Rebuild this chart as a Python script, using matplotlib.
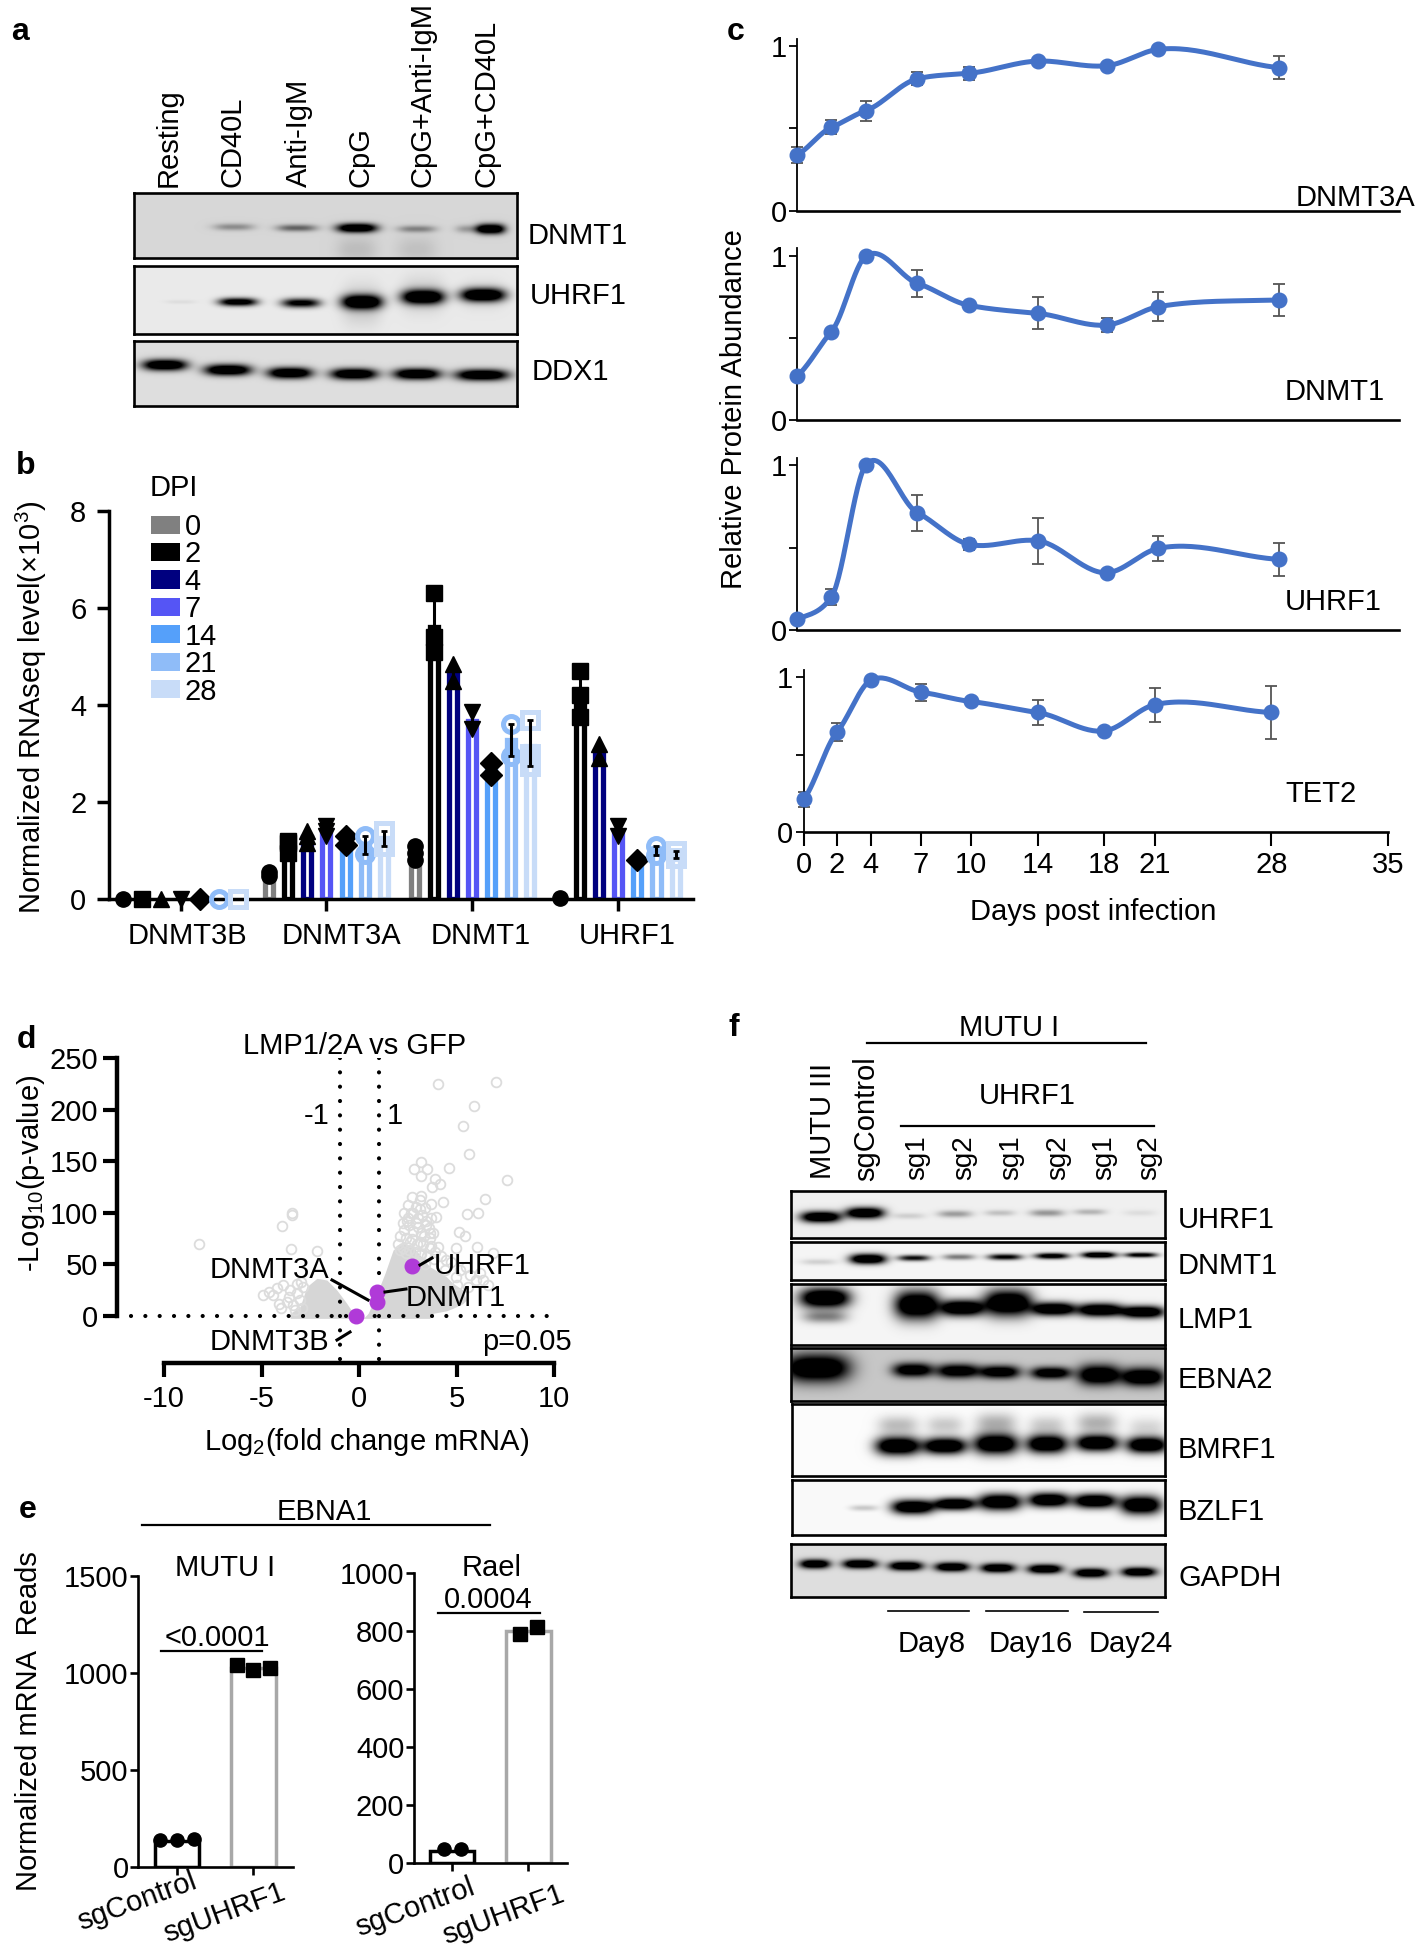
import numpy as np
import matplotlib
matplotlib.use('Agg')
import matplotlib.pyplot as plt
from matplotlib.patches import Patch

W, H = 1420, 1950

plt.rcParams['font.family'] = ['Liberation Sans', 'DejaVu Sans']
plt.rcParams['font.size'] = 21
plt.rcParams['mathtext.fontset'] = 'custom'
plt.rcParams['mathtext.rm'] = 'Liberation Sans'
plt.rcParams['mathtext.default'] = 'regular'
plt.rcParams['axes.unicode_minus'] = False

# panel a, blot bands
a_labels = ['Resting', 'CD40L', 'Anti-IgM', 'CpG', 'CpG+Anti-IgM', 'CpG+CD40L']
a_dnmt1_x = [234, 297, 357, 417, 470, 491, 357, 417]
a_dnmt1_y = [227, 228, 228, 229, 229, 229, 250, 250]
a_dnmt1_amp = [0.35, 0.55, 1.0, 0.4, 0.3, 1.0, 0.12, 0.1]
a_uhrf1_x = [181, 238, 301, 362, 423, 483, 362, 423, 483]
a_uhrf1_y = [302, 302, 303, 302, 297, 295, 305, 295, 295]
a_uhrf1_amp = [0.06, 0.85, 0.75, 1.0, 1.0, 1.0, 0.16, 0.14, 0.1]
a_ddx1_x = [165, 228, 290, 354, 417, 482]
a_ddx1_y = [365, 370, 373, 374, 374, 375]
a_ddx1_amp = [1.0, 1.0, 1.0, 1.0, 1.0, 1.0]

# panel b
genes = ['DNMT3B', 'DNMT3A', 'DNMT1', 'UHRF1']
dpi_labels = ['0', '2', '4', '7', '14', '21', '28']
dpi_colors = ['#808080', '#000000', '#00007f', '#5555f5', '#55a0fa', '#8fbcf8', '#c8dcf8']
dpi_markers = ['o', 's', '^', 'v', 'D', 'o', 's']
dnmt3b_pts = [[0.0], [0.0], [0.01], [0.0], [0.0], [0.0], [0.0]]
dnmt3a_pts = [[0.48, 0.55], [0.95, 1.15, 1.2], [1.15, 1.3, 1.4], [1.3, 1.4, 1.5],
              [1.12, 1.3], [0.92, 1.3], [1.1, 1.4]]
dnmt1_pts = [[0.8, 0.95, 1.1], [5.1, 5.4, 6.3], [4.5, 4.85], [3.5, 3.85],
             [2.55, 2.8], [2.95, 3.6], [2.75, 3.0, 3.7]]
uhrf1_pts = [[0.03], [3.75, 4.2, 4.7], [2.9, 3.2], [1.3, 1.5], [0.8], [0.9, 1.1], [0.85, 1.0]]

# panel c
days = [0, 2, 4, 7, 10, 14, 18, 21, 28]
dnmt3a_c = [0.339, 0.506, 0.607, 0.80, 0.833, 0.907, 0.879, 0.978, 0.867]
dnmt3a_err = [0.05, 0.043, 0.06, 0.04, 0.04, 0.01, 0.01, 0.01, 0.068]
dnmt1_c = [0.268, 0.539, 1.0, 0.833, 0.699, 0.65, 0.579, 0.691, 0.732]
dnmt1_err = [0.0, 0.01, 0.0, 0.083, 0.01, 0.098, 0.045, 0.088, 0.10]
uhrf1_c = [0.065, 0.2, 1.0, 0.711, 0.519, 0.541, 0.347, 0.495, 0.428]
uhrf1_err = [0.02, 0.048, 0.0, 0.11, 0.035, 0.14, 0.01, 0.075, 0.10]
tet2_c = [0.21, 0.646, 0.978, 0.903, 0.842, 0.771, 0.652, 0.821, 0.771]
tet2_err = [0.05, 0.06, 0.0, 0.055, 0.01, 0.08, 0.01, 0.11, 0.173]

# panel d
cloud_left_x = [-3.53, -3.02, -2.68, -2.16, -1.65, -1.14, -0.63, -0.29, 0.05]
cloud_left_top = [2.6, 9, 28.4, 36.5, 34.9, 25.2, 12.3, 2.6, -1.3]
cloud_right_x = [0.22, 0.47, 0.82, 1.33, 1.75, 2.26, 2.77, 3.63, 3.8, 4.48, 4.8, 5.33, 5.5]
cloud_right_top = [-2.3, 2.6, 17, 41.3, 64, 70.4, 67.2, 47.8, 46, 38.1, 32, 25.2, 15.5]
cloud_right_low = [-2.3, -2.3, -2.3, -2.3, -2.3, -2.3, -2.3, -2.3, 2.6, 5, 7.3, 12, 15.5]
volcano_x = [4.05, 7.0, 5.89, 5.31, 5.65, 4.61, 7.61, 3.2, 3.49, 2.81, 3.18, 3.9, 4.14, 3.76,
             3.11, 3.71, 4.32, 6.44, 3.11, 5.53, 6.09, 2.69, 3.93, 2.47, 2.91, 3.46, 2.3,
             2.77, 3.2, 3.63, 5.12, 5.45, 2.64, 3.11, 3.63, 4.05, 4.99, 6.06, 2.09, 2.43,
             3.11, 3.63, 4.48, 5.5, 6.86, 6.01, 4.99, 6.35,
             -3.46, -3.46, -3.95, -3.49, -2.16, -8.2, -4.64, -4.21, -4.09, -3.53, -3.61,
             -3.19, -3.36, -3.02, -2.85,
             2.3, 2.5, 2.7, 2.9, 3.2, 3.4, 2.5, 2.75, 3.0, 3.25, 3.45, 3.7, 2.25, 2.55, 3.05,
             3.35, 3.6, 3.8, 2.1, 2.4, 2.7, 2.95, 3.3, 3.7, 3.9, 2.0, 2.25, 2.55, 2.85, 3.2,
             3.5, 3.85, 4.2, 4.7, 5.2, 5.7, 6.2, 6.6, 5.0, 5.6, 4.4, 3.0, 3.4,
             -4.9, -4.4, -3.9, -3.7, -3.2, -2.9, -3.3, -3.0, -4.0]
volcano_y = [224.5, 226.4, 203.8, 184.4, 157, 143.4, 131.8, 149.5, 142.8, 142.2, 135.3, 132.5,
             127.9, 125.3, 112.4, 108.5, 110.1, 113.4, 103.7, 98.5, 99.5, 99.5, 96.3, 92.4,
             89.8, 88.2, 83.3, 82.7, 80.1, 80.1, 81.7, 77.8, 72, 72, 75.3, 67.2, 65.6, 67.2,
             64, 60.7, 58.8, 65.6, 54.3, 47.8, 60.7, 34.9, 38.1, 34.9,
             100.1, 98, 87.2, 64.9, 63, 70, 23.6, 26.9, 11.6, 25.2, 18.7,
             22, 10.7, 15.5, 28.4,
             100, 108, 115, 106, 116, 105, 95, 100, 95, 98, 92, 95, 90, 88, 86,
             78, 85, 80, 78, 76, 75, 70, 70, 68, 62, 70, 66, 64, 62, 60,
             58, 55, 58, 52, 45, 40, 42, 30, 30, 28, 45, 52, 50,
             20, 20, 30, 14, 31, 8, 6, 33, 8]
hit_x = [2.72, 0.94, 0.93, -0.15]
hit_y = [48.4, 23.5, 13.9, 0.3]

# panel e
e_groups = ['sgControl', 'sgUHRF1']
mutu_ctrl = [140, 138, 142]
mutu_sg = [1040, 1015, 1027]
rael_ctrl = [48, 48]
rael_sg = [790, 813]
mutu_bars = [132, 1024]
rael_bars = [42, 800]

# panel f, blot bands
f_lanes = ['sg1', 'sg2', 'sg1', 'sg2', 'sg1', 'sg2']
f_uhrf1_x = [821, 865, 909, 955, 1000, 1047, 1090, 1140]
f_uhrf1_y = [1217, 1213, 1216, 1214, 1213, 1213, 1212, 1213]
f_uhrf1_amp = [1.0, 1.0, 0.14, 0.35, 0.2, 0.38, 0.25, 0.08]
f_dnmt1_x = [819, 868, 914, 959, 1005, 1052, 1099, 1141]
f_dnmt1_y = [1262, 1259, 1258, 1257, 1257, 1256, 1255, 1255]
f_dnmt1_amp = [0.15, 1.0, 0.65, 0.5, 0.7, 0.8, 0.95, 0.75]
f_lmp1_x = [825, 825, 917, 962, 1008, 1054, 1100, 1143]
f_lmp1_y = [1298, 1317, 1305, 1308, 1303, 1309, 1310, 1312]
f_lmp1_amp = [1.0, 0.45, 1.0, 1.0, 1.0, 1.0, 1.0, 1.0]
f_ebna2_x = [817, 913, 958, 1000, 1051, 1099, 1143]
f_ebna2_y = [1368, 1370, 1371, 1372, 1373, 1375, 1377]
f_ebna2_amp = [1.0, 0.9, 0.9, 0.9, 0.9, 1.0, 1.0]
f_bmrf1_x = [898, 945, 996, 1047, 1097, 1147, 898, 945, 996, 1047, 1097, 1147]
f_bmrf1_y = [1446, 1446, 1444, 1444, 1443, 1445, 1425, 1425, 1423, 1425, 1423, 1427]
f_bmrf1_amp = [1.0, 1.0, 1.0, 1.0, 1.0, 1.0, 0.25, 0.2, 0.3, 0.2, 0.3, 0.15]
f_bzlf1_x = [864, 913, 955, 1000, 1049, 1095, 1141]
f_bzlf1_y = [1508, 1507, 1504, 1502, 1500, 1501, 1505]
f_bzlf1_amp = [0.2, 1.0, 1.0, 1.0, 1.0, 1.0, 1.0]
f_gapdh_x = [815, 860, 906, 952, 998, 1045, 1091, 1139]
f_gapdh_y = [1564, 1564, 1566, 1567, 1568, 1569, 1573, 1572]
f_gapdh_amp = [1.0, 1.0, 1.0, 1.0, 1.0, 1.0, 1.0, 1.0]

fig = plt.figure(figsize=(W / 100, H / 100), dpi=100)


def axpx(x0, y0, x1, y1):
    return fig.add_axes([x0 / W, 1 - y1 / H, (x1 - x0) / W, (y1 - y0) / H])


def T(x, y, s, **kw):
    kw.setdefault('ha', 'center')
    kw.setdefault('va', 'center')
    if 'rotation' not in kw:
        y = y + 2.5
    return fig.text(x / W, 1 - y / H, s, **kw)


def L(x0, y0, x1, y1, lw=1.6, color='black'):
    fig.add_artist(plt.Line2D([x0 / W, x1 / W], [1 - y0 / H, 1 - y1 / H], color=color, lw=lw))


def blot(x0, y0, x1, y1, bg, xs, ys, amps, hw, hh):
    ax = axpx(x0, y0, x1, y1)
    gx, gy = np.meshgrid(np.arange(x0, x1) + 0.5, np.arange(y0, y1) + 0.5)
    dark = np.zeros_like(gx)
    hw = np.broadcast_to(hw, (len(xs),))
    hh = np.broadcast_to(hh, (len(xs),))
    for cx, cy, amp, w, h in zip(xs, ys, amps, hw, hh):
        sat = 1.5 if amp > 0.6 else 1.0
        dark += amp * sat * np.exp(-np.abs((gx - cx) / w) ** 3) * np.exp(-np.abs((gy - cy) / h) ** 2)
    img = bg * (1 - np.clip(dark, 0, 1))
    ax.imshow(img, cmap='gray', vmin=0, vmax=1, extent=[x0, x1, y1, y0], aspect='auto',
              interpolation='bilinear')
    ax.set_xticks([])
    ax.set_yticks([])
    for sp in ax.spines.values():
        sp.set_linewidth(1.9)
    return ax


def smooth(x, y):
    x = np.array(x, dtype=float)
    y = np.array(y, dtype=float)
    m = 0.65 * np.gradient(y, x)
    xs = []
    ys = []
    for i in range(len(x) - 1):
        h = x[i + 1] - x[i]
        t = np.linspace(0, 1, 30)
        xs.append(x[i] + t * h)
        ys.append((2 * t**3 - 3 * t**2 + 1) * y[i] + (t**3 - 2 * t**2 + t) * h * m[i]
                  + (-2 * t**3 + 3 * t**2) * y[i + 1] + (t**3 - t**2) * h * m[i + 1])
    return np.concatenate(xs), np.concatenate(ys)


# letters
for lx, ly, s in [(20, 30, 'a'), (26, 463, 'b'), (736, 29, 'c'), (26, 1038, 'd'), (28, 1508, 'e'), (734, 1026, 'f')]:
    T(lx, ly, s, fontweight='bold', fontsize=23)

# panel a
blot(134, 193, 517, 258, 0.84, a_dnmt1_x, a_dnmt1_y, a_dnmt1_amp,
     [20, 20, 20, 19, 14, 14, 20, 20], [3.5, 3.5, 4.5, 3.5, 4, 5, 14, 14])
blot(134, 266, 517, 334, 0.92, a_uhrf1_x, a_uhrf1_y, a_uhrf1_amp,
     [16, 19, 19, 20, 21, 22, 20, 22, 22], [2, 4, 4.5, 7, 7, 6.5, 20, 18, 14])
blot(134, 341, 517, 406, 0.87, a_ddx1_x, a_ddx1_y, a_ddx1_amp, [22, 23, 22, 23, 23, 26], 5.5)
for xp, s in zip([169, 233, 299, 361, 422, 487], a_labels):
    T(xp, 187, s, rotation=90, va='bottom')
T(528, 233, 'DNMT1', ha='left')
T(530, 293, 'UHRF1', ha='left')
T(532, 370, 'DDX1', ha='left')

# panel b
ax = axpx(109.4, 511, 693, 899)
ax.set_xlim(-0.70, 29.67)
ax.set_ylim(0, 8)
group_step = 7.59
for g, pts in enumerate([dnmt3b_pts, dnmt3a_pts, dnmt1_pts, uhrf1_pts]):
    for i, day_pts in enumerate(pts):
        xpos = g * group_step + i
        mean = np.mean(day_pts)
        if mean > 0.1:
            ax.bar(xpos, mean, width=0.42, facecolor='white', edgecolor=dpi_colors[i], linewidth=3.8, zorder=2)
        if i < 5:
            ax.plot([xpos] * len(day_pts), day_pts, dpi_markers[i], color='black', ms=11, zorder=4, clip_on=False)
        else:
            ax.plot([xpos] * len(day_pts), day_pts, dpi_markers[i], mfc='none', mec=dpi_colors[i], mew=3.6, ms=11.5,
                    zorder=4, clip_on=False)
        if mean > 0.1 and len(day_pts) > 1:
            ax.errorbar(xpos, mean, yerr=[[mean - min(day_pts)], [max(day_pts) - mean]], color='black',
                        lw=2.2, capsize=2.5, capthick=2, zorder=5)
ax.spines['top'].set_visible(False)
ax.spines['right'].set_visible(False)
ax.spines['left'].set_linewidth(2.5)
ax.spines['bottom'].set_linewidth(2.5)
ax.set_xticks([3 + g * group_step for g in range(4)])
ax.set_xticklabels([])
ax.tick_params(axis='x', length=8.5, width=2.5)
ax.set_yticks([0, 2, 4, 6, 8])
ax.tick_params(axis='y', length=8.5, width=2.5, pad=8)
for xp, s in zip([187.5, 341.5, 481, 627], genes):
    T(xp, 934, s)
T(31, 707, 'Normalized RNAseq level(×10$^{3}$)', rotation=90)
T(150, 486, 'DPI', ha='left')
handles = [Patch(facecolor=c, edgecolor='none') for c in dpi_colors]
ax.legend(handles, dpi_labels, loc='upper left', bbox_to_anchor=(151 / W, 1 - 513 / H),
          bbox_transform=fig.transFigure, frameon=False, fontsize=21,
          handlelength=1.0, handleheight=0.58, handletextpad=0.15, labelspacing=-0.02, borderpad=0,
          borderaxespad=0)

# panel c
c_color = '#4472c8'
c_boxes = [(797, 39, 1399.3, 211, 45.7), (797, 248, 1399.3, 420, 256), (797, 458, 1399.3, 630, 465),
           (803.7, 670, 1388.4, 832, 677)]
for box, vals, errs in zip(c_boxes, [dnmt3a_c, dnmt1_c, uhrf1_c, tet2_c],
                           [dnmt3a_err, dnmt1_err, uhrf1_err, tet2_err]):
    x0, top, x1, y0, y1 = box
    ax = axpx(x0, top, x1, y0)
    ax.set_xlim(0, 35)
    ax.set_ylim(0, (y0 - top) / (y0 - y1))
    sx, sy = smooth(days, vals)
    ax.errorbar(days, vals, yerr=errs, fmt='none', ecolor='#555555', elinewidth=1.3, capsize=4.2, capthick=1.3,
                zorder=2, clip_on=False)
    ax.plot(sx, sy, color=c_color, lw=3.6, zorder=3, clip_on=False)
    ax.plot(days, vals, 'o', color=c_color, ms=10.5, zorder=4, clip_on=False)
    ax.spines['top'].set_visible(False)
    ax.spines['right'].set_visible(False)
    ax.spines['left'].set_linewidth(1.3)
    ax.spines['bottom'].set_linewidth(1.9)
    ax.set_yticks([0, 0.5, 1])
    ax.set_yticklabels(['0', '', '1'])
    ax.tick_params(axis='y', length=5.5, width=1.3, pad=2)
    ax.set_xticks([])
ax.set_xticks([0, 2, 4, 7, 10, 14, 18, 21, 28, 35])
ax.tick_params(axis='x', length=10, width=1.5, pad=4)
T(1355, 196, 'DNMT3A')
T(1285, 389, 'DNMT1', ha='left')
T(1285, 599, 'UHRF1', ha='left')
T(1285, 791, 'TET2', ha='left')
T(733.5, 409, 'Relative Protein Abundance', rotation=90, fontsize=21)
T(1092.7, 909, 'Days post infection')

# panel d
ax = axpx(117.4, 1058, 560, 1363)
ax.set_xlim((117.4 - 359) / 19.5, (560 - 359) / 19.5)
ax.set_ylim((1316 - 1363) / 1.032, 250)
ax.fill_between(cloud_left_x, -2.3, cloud_left_top, color='#d6d6d6', lw=0, zorder=1)
ax.fill_between(cloud_right_x, cloud_right_low, cloud_right_top, color='#d6d6d6', lw=0, zorder=1)
ax.plot(volcano_x, volcano_y, 'o', mfc='none', mec='#dcdcdc', ms=7, mew=1.3, zorder=2, clip_on=False)
dot_style = dict(color='black', lw=3, linestyle=(0, (0.01, 3.43)), dash_capstyle='round', zorder=3)
ax.plot([-1, -1], [250, -45], **dot_style)
ax.plot([1, 1], [250, -45], **dot_style)
ax.plot([-11.7, 10.2], [0, 0], **dot_style)
ax.plot(hit_x, hit_y, 'o', color='#b03ad8', ms=10.5, zorder=5, clip_on=False)
ax.spines['top'].set_visible(False)
ax.spines['right'].set_visible(False)
ax.spines['left'].set_linewidth(3.2)
ax.spines['bottom'].set_linewidth(3.2)
ax.spines['left'].set_bounds(0, 250)
ax.spines['bottom'].set_bounds(-10, 10)
ax.set_xticks([-10, -5, 0, 5, 10])
ax.set_yticks([0, 50, 100, 150, 200, 250])
ax.tick_params(length=10, width=3, pad=4)
ax.tick_params(axis='x', pad=6)
ax.patch.set_alpha(0)
T(355, 1043, 'LMP1/2A vs GFP')
T(317, 1114, '-1')
T(395, 1114, '1')
T(210, 1267, 'DNMT3A', ha='left')
T(434, 1263, 'UHRF1', ha='left')
T(406, 1295, 'DNMT1', ha='left')
T(210, 1340, 'DNMT3B', ha='left')
T(572, 1339, 'p=0.05', ha='right')
T(31, 1173, '-Log$_{10}$(p-value)', rotation=90)
T(367, 1440, 'Log$_{2}$(fold change mRNA)')
L(420, 1265, 432, 1258, lw=2.2)
L(385, 1292, 406, 1289, lw=2.2)
L(332, 1280, 368, 1300, lw=2.2)
L(337, 1340, 350, 1332, lw=2.2)

# panel e
T(324, 1509, 'EBNA1')
L(142, 1525, 490, 1525)
e_boxes = [(138.4, 1576, 292.6, 1866.7, 1500, mutu_bars, mutu_ctrl, mutu_sg, [-0.22, 0, 0.22], [0, 500, 1000, 1500]),
           (414, 1573, 567.4, 1863, 1000, rael_bars, rael_ctrl, rael_sg, [-0.11, 0.11], [0, 200, 400, 600, 800, 1000])]
for x0, top, x1, bot, ymax, bars, ctrl, sg, offs, yt in e_boxes:
    ax = axpx(x0, top, x1, bot)
    ax.set_xlim(-0.5, 1.51)
    ax.set_ylim(0, ymax)
    ax.bar([0, 1], bars, width=0.58, facecolor='white', edgecolor=['black', '#a8a8a8'], linewidth=2.5, zorder=2)
    ax.plot(np.array(offs), ctrl, 'o', color='black', ms=9.5, zorder=3)
    ax.plot(1 + np.array(offs), sg, 's', color='black', ms=9.5, zorder=3)
    ax.spines['top'].set_visible(False)
    ax.spines['right'].set_visible(False)
    ax.spines['left'].set_linewidth(1.9)
    ax.spines['bottom'].set_linewidth(1.9)
    ax.set_xticks([0, 1])
    ax.set_xticklabels([])
    ax.set_yticks(yt)
    ax.tick_params(length=5.5, width=1.9, pad=1.5)
for xp, yp, s in zip([137, 224, 415, 503], [1902, 1913, 1908, 1915], e_groups + e_groups):
    T(xp, yp, s, rotation=20)
T(225, 1566, 'MUTU I')
T(217, 1635, '<0.0001')
L(161, 1651, 262, 1651)
T(492, 1565, 'Rael')
T(488, 1598, '0.0004')
L(438, 1613, 540, 1613)
T(29, 1721, 'Normalized mRNA  Reads', rotation=90)

# panel f
T(1009, 1025, 'MUTU I')
L(867, 1043, 1146, 1043)
T(823, 1179, 'MUTU III', rotation=90, va='bottom')
T(866, 1181, 'sgControl', rotation=90, va='bottom')
T(1027, 1094, 'UHRF1')
L(901, 1126, 1154, 1126)
for xp, s in zip([917, 964.5, 1011, 1058, 1104, 1149], f_lanes):
    T(xp, 1180, s, rotation=90, va='bottom', fontsize=20)
blot(791, 1191, 1165, 1238, 0.94, f_uhrf1_x, f_uhrf1_y, f_uhrf1_amp, [20, 19, 16, 17, 15, 17, 16, 16], [5.5, 5.5, 3, 3.5, 3, 3.5, 3, 3])
blot(791, 1242, 1165, 1280, 0.96, f_dnmt1_x, f_dnmt1_y, f_dnmt1_amp, [18, 18, 16, 16, 17, 17, 17, 16], [3, 5, 3, 3, 3, 3, 3, 2.5])
blot(791, 1284, 1165, 1345, 0.96, f_lmp1_x, f_lmp1_y, f_lmp1_amp, [25, 22, 22, 21, 24, 21, 22, 21], [10, 6, 14, 8, 13, 6.5, 6.5, 6])
blot(791, 1348, 1165, 1401, 0.78, f_ebna2_x, f_ebna2_y, f_ebna2_amp, [33, 20, 21, 20, 20, 21, 21], [14, 7, 7, 6.5, 6, 10, 9])
blot(792, 1404, 1165, 1476, 0.985, f_bmrf1_x, f_bmrf1_y, f_bmrf1_amp, [22, 21, 22, 20, 21, 20, 20, 18, 20, 18, 20, 18], [9, 8, 10, 9, 8, 8, 9, 9, 10, 9, 10, 9])
blot(792, 1480, 1165, 1535, 0.98, f_bzlf1_x, f_bzlf1_y, f_bzlf1_amp, [14, 21, 20, 21, 20, 21, 20], [3, 7, 6, 8, 7, 7, 9])
blot(791, 1544, 1165, 1597, 0.87, f_gapdh_x, f_gapdh_y, f_gapdh_amp, [15, 17, 17, 17, 17, 17, 17, 17], 4.5)
for yp, s in zip([1217, 1263, 1318, 1377, 1447, 1510, 1575],
                 ['UHRF1', 'DNMT1', 'LMP1', 'EBNA2', 'BMRF1', 'BZLF1', 'GAPDH']):
    T(1178, yp, s, ha='left')
L(888, 1611, 969, 1611, lw=1.2)
L(986, 1611, 1068, 1611, lw=1.2)
L(1084, 1612, 1158, 1612, lw=1.2)
for xp, s in zip([932, 1031, 1131], ['Day8', 'Day16', 'Day24']):
    T(xp, 1642, s)

fig.savefig('out.png', dpi=100)
